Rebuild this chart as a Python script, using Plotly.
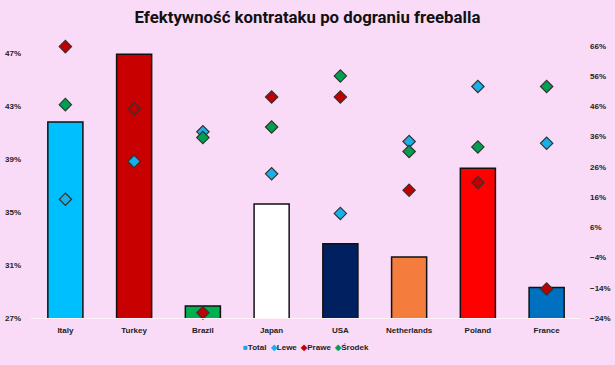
import plotly.graph_objects as go

categories = ["Italy", "Turkey", "Brazil", "Japan", "USA", "Netherlands", "Poland", "France"]
total = [0.418, 0.469, 0.279, 0.356, 0.326, 0.316, 0.383, 0.293]
lewe = [0.153, 0.278, 0.376, 0.237, 0.106, 0.344, 0.526, 0.338]
prawe = [0.658, 0.452, -0.223, 0.491, 0.491, 0.183, 0.208, -0.144]
srodek = [0.466, 0.674, 0.357, 0.392, 0.561, 0.311, 0.326, 0.526]

bar_colors = ["#00BFFF", "#C80000", "#00B050", "#FFFFFF", "#002060", "#F47C3C", "#FF0000", "#0070C0"]
left_ticks = [0.27, 0.31, 0.35, 0.39, 0.43, 0.47]
right_ticks = [-0.24, -0.14, -0.04, 0.06, 0.16, 0.26, 0.36, 0.46, 0.56, 0.66]

fig = go.Figure()
fig.add_trace(go.Bar(
    x=categories, y=total, name="Total", base=0, showlegend=False,
    marker=dict(color=bar_colors, line=dict(color="#111111", width=1.5)),
    width=0.51, yaxis="y",
))
series = [(lewe, "Lewe", "#1AAFE6"), (prawe, "Prawe", "#C00000"), (srodek, "Środek", "#00A050")]
for vals, name, color in series:
    fig.add_trace(go.Scatter(
        x=categories, y=vals, name=name, mode="markers", yaxis="y2",
        showlegend=False, cliponaxis=False,
        marker=dict(symbol="diamond", size=9.5, color=color,
                    line=dict(color="#333333", width=1.2)),
    ))

# compact legend as text (like the reference)
legend_items = [("■", "#1A9FE0", "Total")] + [("◆", c, n) for _, n, c in series]
legend_text = "&nbsp;&nbsp;".join(
    f"<span style='color:{c}'>{sym}</span>{name}" for sym, c, name in legend_items
)
fig.add_annotation(text=legend_text, xref="paper", yref="paper", x=0.5, y=-0.11,
                   xanchor="center", yanchor="middle", showarrow=False,
                   font=dict(family="Liberation Sans, Arial, sans-serif", size=8,
                             color="#222222", weight="bold"))

tick_font = dict(family="Liberation Sans, Arial, sans-serif", size=8, color="#222222", weight="bold")
fig.update_layout(
    width=615, height=365,
    paper_bgcolor="#FADBF7", plot_bgcolor="#FADBF7",
    margin=dict(l=31, r=34, t=46, b=47, autoexpand=False),
    title=dict(text="<b>Efektywność kontrataku po dograniu freeballa</b>",
               x=0.5, xanchor="center", yref="container", y=0.953, yanchor="middle",
               font=dict(family="Roboto, Liberation Sans, sans-serif", size=16.8, color="#111111")),
    showlegend=False,
    xaxis=dict(showgrid=False, showline=True, linecolor="#FFF0FC", linewidth=1,
               tickfont=tick_font, ticks="", ticklabelstandoff=4),
    yaxis=dict(range=[0.27, 0.4753], tickvals=left_ticks, tickformat=".0%",
               showgrid=False, zeroline=False, showline=False, tickfont=tick_font,
               ticklabelstandoff=9),
    yaxis2=dict(range=[-0.24, 0.66], tickvals=right_ticks, tickformat=".0%",
                overlaying="y", side="right", showgrid=False, zeroline=False,
                showline=False, tickfont=tick_font, ticklabelstandoff=8),
    bargap=0.49,
)
fig.write_html("out.html", config={"displayModeBar": False},
               post_script="document.body.style.margin='0px';")
